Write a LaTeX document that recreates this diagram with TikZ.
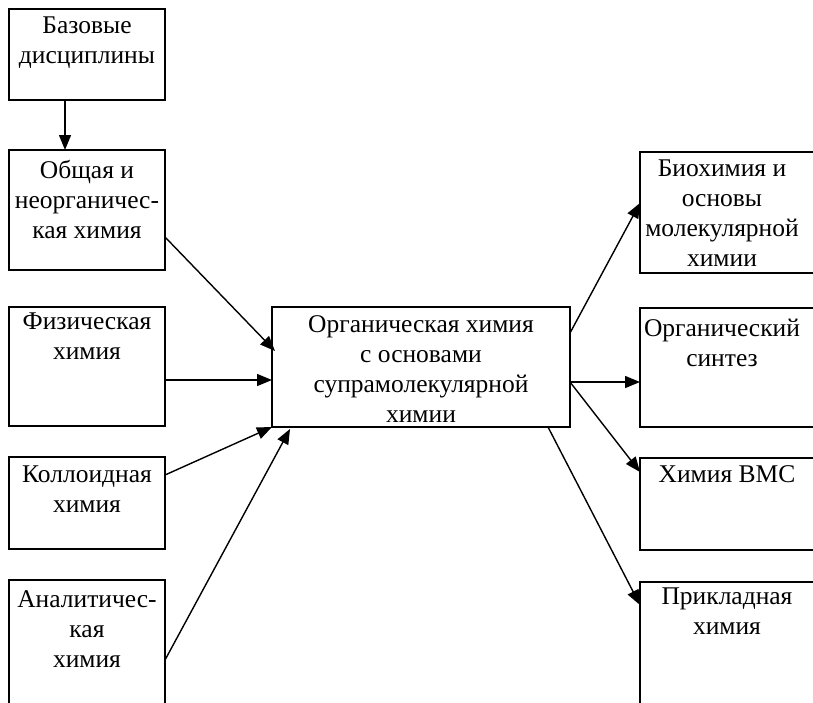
\documentclass[tikz,border=0pt]{standalone}
\usepackage{fontspec}
\setmainfont{Liberation Serif}
\usetikzlibrary{positioning,arrows.meta}
\tikzset{
  block/.style={rectangle, draw, line width=1.2pt, anchor=north west,
                inner sep=0pt, outer sep=0pt},
  txt/.style={align=center, inner sep=0pt, font=\fontsize{25.5}{30}\selectfont},
  arr/.style={-{Triangle[length=15pt, width=12pt]}, line width=1.4pt},
}

\begin{document}
\begin{tikzpicture}[x=1pt, y=-1pt]
  \useasboundingbox (0,0) rectangle (813,702);
  % left column
  \node[block, minimum width=156pt, minimum height=91pt] (base) at (9,9) {};
  \node[block, minimum width=156pt, minimum height=120pt] (obsh) at (9,150) {};
  \node[block, minimum width=156pt, minimum height=119pt] (fiz) at (9,307) {};
  \node[block, minimum width=156pt, minimum height=92pt] (koll) at (9,457) {};
  \node[block, minimum width=156pt, minimum height=130pt] (anal) at (9,580) {};
  % centre
  \node[block, minimum width=298pt, minimum height=120pt] (org) at (272,307) {};
  % right column
  \node[block, minimum width=176pt, minimum height=121pt] (bio) at (640,152) {};
  \node[block, minimum width=176pt, minimum height=119pt] (sint) at (640,308) {};
  \node[block, minimum width=176pt, minimum height=92pt] (vms) at (640,458) {};
  \node[block, minimum width=176pt, minimum height=130pt] (prikl) at (640,582) {};

  % texts
  \node[txt, below=8pt of base.north] (baset) {Базовые\\дисциплины};
  \node[txt, below=10pt of obsh.north] (obsht) {Общая и\\неорганичес-\\кая химия};
  \node[txt, below=6pt of fiz.north] (fizt) {Физическая\\химия};
  \node[txt, below=9pt of koll.north] (kollt) {Коллоидная\\химия};
  \node[txt, below=10pt of anal.north] (analt) {Аналитичес-\\кая\\химия};
  \node[txt, below=8pt of org.north] (orgt) {Органическая химия\\с основами\\супрамолекулярной\\химии};
  \node[txt, below=8pt of bio.north, xshift=-6pt] (biot) {Биохимия и\\основы\\молекулярной\\химии};
  \node[txt, below=11pt of sint.north, xshift=-6pt] (sintt) {Органический\\синтез};
  \node[txt, below=7pt of vms.north, xshift=-1pt] (vmst) {Химия ВМС};
  \node[txt, below=6pt of prikl.north, xshift=-1pt] (priklt) {Прикладная\\химия};

  % arrows
  \draw[arr] ([xshift=-22pt]base.south) -- ([xshift=-22pt]obsh.north);
  \draw[arr] ([yshift=-87pt]obsh.north east) -- ([yshift=-44pt, xshift=3pt]org.north west);
  \draw[arr] ([yshift=-73pt]fiz.north east) -- ([yshift=-73pt]org.north west);
  \draw[arr] ([yshift=-18pt]koll.north east) -- (org.south west);
  \draw[arr] ([yshift=-80pt]anal.north east) -- ([xshift=18pt, yshift=-2pt]org.south west);
  \draw[arr] ([yshift=-26pt]org.north east) -- ([yshift=-51pt]bio.north west);
  \draw[arr] ([yshift=-75pt]org.north east) -- ([yshift=-74pt]sint.north west);
  \draw[arr] ([yshift=-75pt]org.north east) -- ([yshift=-14pt]vms.north west);
  \draw[arr] ([xshift=-22pt]org.south east) -- ([yshift=-23pt]prikl.north west);
\end{tikzpicture}
\end{document}
